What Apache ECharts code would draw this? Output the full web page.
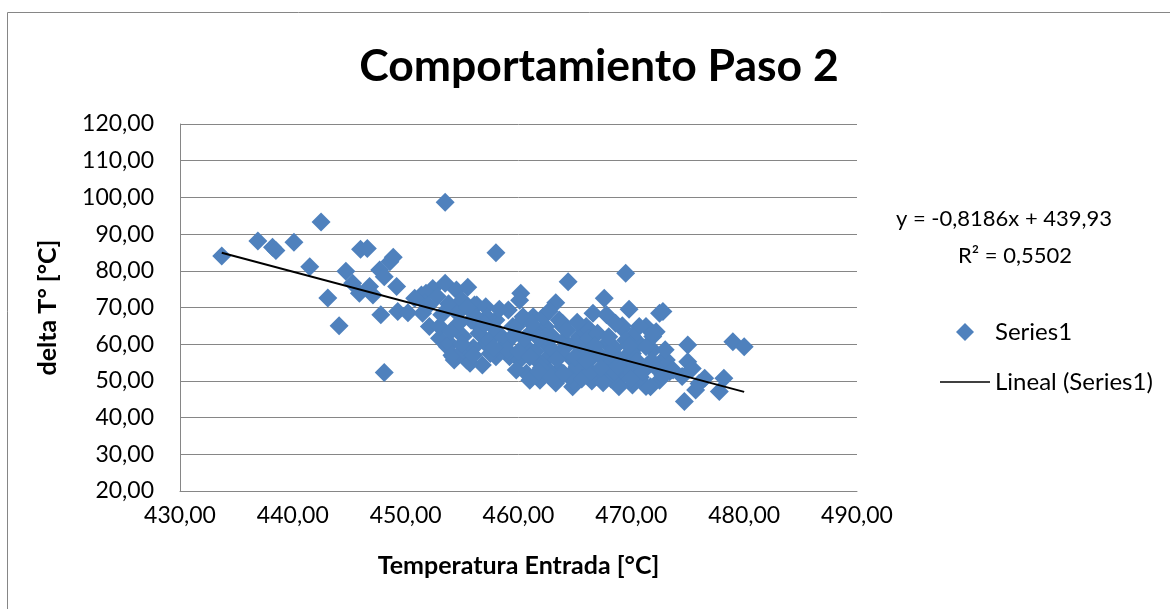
<!DOCTYPE html>
<html>
<head>
<meta charset="utf-8">
<script src="https://cdn.jsdelivr.net/npm/echarts@6/dist/echarts.min.js"></script>
<style>html,body{margin:0;padding:0;background:#fff;}#c{width:1170px;height:609px;}</style>
</head>
<body>
<div id="c"></div>
<script>
const chartTitle = 'Comportamiento Paso 2';
const xAxisName = 'Temperatura Entrada [°C]';
const yAxisName = 'delta T° [°C]';
const seriesName = 'Series1';
const trendName = 'Lineal (Series1)';
const trendSlope = -0.8186;
const trendIntercept = 439.93;
const trendEquation = 'y = -0,8186x + 439,93';
const trendR2 = 'R² = 0,5502';

const tempEntrada = [
433.7,436.9,438.2,438.5,440.1,442.5,441.5,443.1,444.1,444.7,
446.0,446.6,448.1,447.8,445.3,445.9,446.8,447.1,447.7,448.1,
448.6,448.9,449.2,449.3,453.5,458.0,450.2,451.4,452.4,453.5,
454.5,455.5,451.5,452.1,453.0,453.7,454.5,454.3,455.4,456.3,
456.8,469.5,469.8,469.2,472.5,472.8,471.3,472.2,475.0,479.0,
480.0,475.0,475.4,476.5,478.2,477.8,475.7,474.7,474.5,476.0,
473.4,472.5,471.7,470.1,470.7,471.9,472.8,469.5,470.4,471.4,
469.2,471.9,470.7,470.1,464.4,467.6,463.3,466.6,460.2,469.2,
451.8,454.6,456.1,457.1,459.1,460.1,459.2,460.7,461.9,463.3,
464.8,466.9,468.9,471.3,454.2,455.7,458.0,462.4,463.6,462.4,
461.3,459.5,458.0,456.5,455.1,453.9,453.0,457.1,458.9,460.7,
462.4,464.2,465.4,466.0,464.8,466.6,467.8,469.0,470.1,471.3,
471.9,473.1,473.7,467.8,469.5,463.6,466.0,461.9,460.1,463.0,
461.3,463.9,454.1,455.1,456.5,457.4,458.5,459.8,460.4,461.0,
462.2,462.4,463.9,464.8,466.3,467.8,468.6,462.8,463.8,464.5,
465.2,465.8,466.5,467.2,467.9,468.5,468.2,469.6,470.8,471.8,
472.2,473.0,465.0,466.2,467.0,468.0,461.5,462.0,460.5,461.2,
459.6,458.4,457.5,456.0,455.0,454.0,455.8,457.2,458.3,457.8,
451.7,450.8,452.8,453.8,455.0,452.0,453.2,454.8,456.2,457.0,
455.5,459.0,460.0,461.8,463.0,464.0,465.5,466.8,468.2,469.8,
470.5,461.8,462.9,464.0,465.6,466.4,467.5,468.5,470.0,471.0,
472.8,456.0,457.8,459.8,461.0,463.4,465.0,466.0,467.3,468.8,
464.3,465.2,462.7
];
const deltaT = [
84.0,88.1,86.4,85.5,87.8,93.3,81.1,72.6,65.0,79.9,
85.9,86.1,52.3,68.0,76.6,73.9,75.7,73.4,80.2,78.4,
82.5,83.7,75.7,68.9,98.7,84.9,68.6,73.4,75.2,76.6,
74.8,75.5,68.4,64.8,61.6,59.3,68.9,55.7,55.7,70.7,
54.3,79.3,69.5,64.3,68.4,68.9,64.8,63.4,59.8,60.7,
59.3,55.2,53.4,50.7,50.7,47.1,47.5,44.4,51.2,49.3,
52.5,50.2,48.4,48.9,60.2,58.4,55.7,56.6,53.9,53.9,
51.2,62.1,64.8,62.1,77.0,72.5,71.3,68.4,73.9,65.0,
73.9,68.4,70.7,70.2,69.3,72.0,56.6,52.1,50.2,49.4,
48.4,51.2,48.4,48.5,56.6,54.8,56.6,55.7,66.6,64.8,
63.9,64.8,66.6,64.8,62.1,60.2,64.8,60.2,60.2,59.3,
60.2,59.3,62.1,64.8,55.7,56.6,54.8,55.7,57.5,59.3,
63.0,55.7,53.0,60.2,61.1,53.0,53.0,54.8,55.7,62.1,
67.5,64.8,57.0,58.4,63.0,61.1,62.1,64.8,67.5,50.2,
67.5,62.1,65.7,50.2,63.9,68.0,65.7,52.5,57.5,51.5,
54.0,58.5,50.0,57.0,52.0,59.0,50.5,53.5,51.0,55.5,
53.5,58.5,60.5,61.5,63.0,62.0,58.0,53.5,61.5,65.5,
62.5,58.0,57.5,59.0,60.0,63.5,66.5,67.5,69.5,64.5,
71.2,72.5,73.0,71.0,72.0,70.5,68.0,66.0,67.5,65.5,
70.0,58.5,58.0,61.5,58.5,61.0,57.5,59.5,57.5,59.5,
55.5,52.5,51.0,52.0,50.5,52.5,49.5,52.5,50.5,52.5,
51.5,57.0,59.0,53.0,56.5,55.8,56.5,55.5,53.5,54.0,
63.8,66.0,69.0
];
const xTicks = {min: 430, max: 490, interval: 10};
const yTicks = {min: 20, max: 120, interval: 10};

const points = tempEntrada.map((x, i) => [x, deltaT[i]]);
const xMinData = Math.min(...tempEntrada);
const xMaxData = Math.max(...tempEntrada);
const trendData = [xMinData, xMaxData].map(x => [x, trendSlope * x + trendIntercept]);
const fmt = v => v.toFixed(2).replace('.', ',');
const FONT = 'Lato, "Open Sans", sans-serif';

const chart = echarts.init(document.getElementById('c'), null, {renderer: 'canvas'});
chart.setOption({
  backgroundColor: '#fff',
  animation: false,
  title: {
    text: chartTitle, left: 594, top: 39, textAlign: 'center',
    textStyle: {fontFamily: FONT, fontWeight: 'bold', fontSize: 44.5, color: '#000'}
  },
  grid: {left: 180, right: 313, top: 124, bottom: 118, containLabel: false},
  xAxis: {
    type: 'value', min: xTicks.min, max: xTicks.max, interval: xTicks.interval,
    name: xAxisName, nameLocation: 'middle', nameGap: 62,
    nameTextStyle: {fontFamily: FONT, fontWeight: 'bold', fontSize: 25, color: '#000'},
    axisLine: {show: true, lineStyle: {color: '#868686', width: 1}},
    axisTick: {show: false},
    splitLine: {show: false},
    axisLabel: {formatter: fmt, fontFamily: FONT, fontSize: 23, color: '#000', margin: 13}
  },
  yAxis: {
    type: 'value', min: yTicks.min, max: yTicks.max, interval: yTicks.interval,
    name: yAxisName, nameLocation: 'middle', nameGap: 120, nameRotate: 90,
    nameTextStyle: {fontFamily: FONT, fontWeight: 'bold', fontSize: 25, color: '#000'},
    axisLine: {show: true, lineStyle: {color: '#868686', width: 1}},
    axisTick: {show: false},
    splitLine: {show: true, lineStyle: {color: '#868686', width: 1}},
    axisLabel: {formatter: fmt, fontFamily: FONT, fontSize: 23, color: '#000', margin: 26}
  },
  legend: {
    orient: 'vertical', left: 935, top: 315, itemWidth: 50, itemHeight: 18, itemGap: 26,
    symbolKeepAspect: true,
    textStyle: {fontFamily: FONT, fontSize: 24, color: '#000'},
    data: [
      {name: seriesName, icon: 'path://M0,5L5,0L10,5L5,10Z'},
      {name: trendName, icon: 'path://M0,0H50V1.6H0Z'}
    ]
  },
  graphic: [
    {type: 'rect', shape: {x: 7.5, y: 12.5, width: 1300, height: 800}, style: {fill: null, stroke: '#868686', lineWidth: 1}, silent: true, z: -1},
    {type: 'text', left: 1018 - 122, top: 208, style: {text: trendEquation, fontFamily: FONT, fontSize: 22, fill: '#000'}},
    {type: 'text', left: 1018 - 60, top: 245, style: {text: trendR2, fontFamily: FONT, fontSize: 22, fill: '#000'}}
  ],
  series: [
    {
      name: seriesName, type: 'scatter', data: points, symbol: 'diamond', symbolSize: 19,
      itemStyle: {color: '#4F81BD', opacity: 1}, z: 2
    },
    {
      name: trendName, type: 'line', data: trendData, symbol: 'none', showSymbol: false,
      lineStyle: {color: '#000', width: 2}, itemStyle: {color: '#000'}, z: 3
    }
  ]
});
</script>
</body>
</html>
